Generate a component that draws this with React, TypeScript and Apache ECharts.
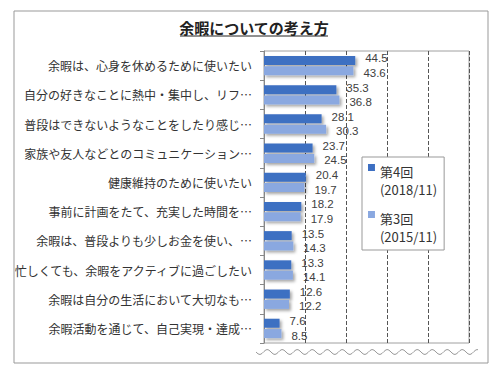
import React, { useEffect, useRef } from "react";
import * as echarts from "echarts";

const categories = [
  "余暇は、心身を休めるために使いたい",
  "自分の好きなことに熱中・集中し、リフ…",
  "普段はできないようなことをしたり感じ…",
  "家族や友人などとのコミュニケーション…",
  "健康維持のために使いたい",
  "事前に計画をたて、充実した時間を…",
  "余暇は、普段よりも少しお金を使い、…",
  "忙しくても、余暇をアクティブに過ごしたい",
  "余暇は自分の生活において大切なも…",
  "余暇活動を通じて、自己実現・達成…",
];
const round4 = [44.5, 35.3, 28.1, 23.7, 20.4, 18.2, 13.5, 13.3, 12.6, 7.6];
const round3 = [43.6, 36.8, 30.3, 24.5, 19.7, 17.9, 14.3, 14.1, 12.2, 8.5];
const seriesNames = ["第4回\n(2018/11)", "第3回\n(2015/11)"];
const title = "余暇についての考え方";

const DARK = "#3d6fc2";
const LIGHT = "#8aa8e0";

export default function App() {
  const ref = useRef<HTMLDivElement>(null);
  useEffect(() => {
    const chart = echarts.init(ref.current!, null, { renderer: "svg" });
    const wave: number[][] = [];
    for (let x = 256; x <= 478; x += 2) {
      wave.push([x, 352 + 2.5 * Math.sin(((x - 256) / 15) * Math.PI * 2)]);
    }
    const labelCommon = {
      show: true,
      position: "right",
      distance: 10,
      color: "#404040",
      fontSize: 11.5,
      lineHeight: 11,
      fontFamily: "Liberation Sans, DejaVu Sans, sans-serif",
    };
    const shadow = {
      shadowColor: "rgba(0,0,0,0.35)",
      shadowBlur: 3,
      shadowOffsetX: 2,
      shadowOffsetY: 2,
    };
    chart.setOption({
      animation: false,
      backgroundColor: "#ffffff",
      grid: {
        left: 264,
        top: 51,
        width: 205,
        height: 292,
        show: true,
        borderColor: "#a0a0a0",
        borderWidth: 1,
      },
      xAxis: {
        type: "value",
        min: 0,
        max: 100,
        interval: 20,
        axisLabel: { show: false },
        axisTick: { show: false },
        axisLine: { show: false },
        splitLine: { show: true, lineStyle: { type: "dashed", color: "#555", width: 1 } },
      },
      yAxis: {
        type: "category",
        data: categories,
        inverse: true,
        axisLine: { show: true, lineStyle: { color: "#888" } },
        axisTick: { show: true, length: 4, lineStyle: { color: "#888" } },
        axisLabel: {
          margin: 12,
          color: "#333",
          fontSize: 12,
          fontFamily: "Noto Sans CJK JP, sans-serif",
        },
      },
      legend: {
        orient: "vertical",
        left: 362,
        top: 157,
        backgroundColor: "#ffffff",
        borderColor: "#999",
        borderWidth: 1,
        padding: [5, 7, 5, 6],
        itemGap: 11,
        itemWidth: 7,
        itemHeight: 32,
        icon: "path://M0,0L10,0L10,10L0,10Z M0,46L0.01,46L0.01,46.01Z",
        textStyle: {
          fontSize: 13,
          lineHeight: 18,
          color: "#333",
          fontFamily: "Noto Sans CJK JP, sans-serif",
        },
        data: seriesNames,
      },
      graphic: [
        {
          type: "rect",
          shape: { x: 14, y: 11, width: 474, height: 352 },
          style: { fill: "none", stroke: "#999", lineWidth: 1 },
          silent: true,
        },
        {
          type: "text",
          x: 254,
          y: 27,
          style: {
            text: title,
            fill: "#222",
            font: "bold 15px 'Noto Sans CJK JP', sans-serif",
            align: "center",
            verticalAlign: "middle",
          },
        },
        {
          type: "line",
          shape: { x1: 180, y1: 36, x2: 328, y2: 36 },
          style: { stroke: "#222", lineWidth: 1 },
        },
        {
          type: "rect",
          shape: { x: 256, y: 344, width: 224, height: 12 },
          style: { fill: "#fff" },
          z: 10,
        },
        {
          type: "polyline",
          shape: { points: wave },
          style: { stroke: "#999", lineWidth: 1, fill: "none" },
          z: 11,
        },
      ],
      series: [
        {
          type: "bar",
          barWidth: 9,
          barGap: "15%",
          name: seriesNames[0],
          data: round4,
          itemStyle: { color: DARK, ...shadow },
          label: { ...labelCommon, offset: [0, -2] },
        },
        {
          type: "bar",
          barWidth: 9,
          barGap: "15%",
          name: seriesNames[1],
          data: round3,
          itemStyle: { color: LIGHT, ...shadow },
          label: { ...labelCommon, offset: [0, 2] },
        },
      ],
    });
    return () => chart.dispose();
  }, []);
  return (
    <div
      ref={ref}
      style={{ position: "fixed", left: 0, top: 0, width: 500, height: 379 }}
    />
  );
}
